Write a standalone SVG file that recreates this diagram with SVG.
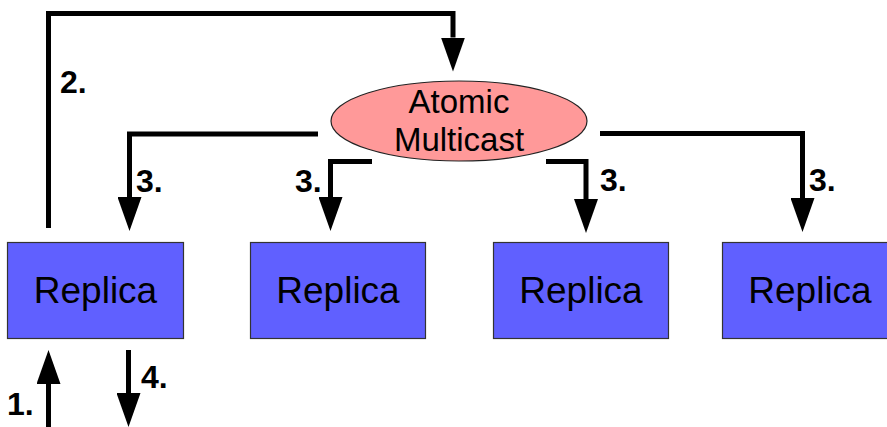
<svg xmlns="http://www.w3.org/2000/svg" width="887" height="427" viewBox="0 0 887 427">
<style>
.box{fill:#6060ff;stroke:#333;stroke-width:1.2}
.ell{fill:#ff9999;stroke:#222;stroke-width:1.2}
.t{font-family:"Liberation Sans",Arial,sans-serif;fill:#000;text-anchor:middle}
.lbl{font-family:"Liberation Sans",Arial,sans-serif;font-weight:bold;font-size:32px;fill:#000}
.c{fill:none;stroke:#000;stroke-width:5;stroke-linejoin:miter;stroke-linecap:butt}
</style>
<defs>
<marker id="ah" markerUnits="userSpaceOnUse" markerWidth="34" markerHeight="24" viewBox="0 -12 34 24" refX="0" refY="0" orient="auto">
<path d="M0,-12 L34,0 L0,12 Z" fill="#000"/>
</marker>
</defs>
<rect width="887" height="427" fill="#fff"/>
<g id="connectors">
<path class="c" d="M48.5,228 V13.5 H453 V37.5" marker-end="url(#ah)"/>
<path class="c" d="M318,134 H129.5 V197" marker-end="url(#ah)"/>
<path class="c" d="M372,161.5 H330.5 V197" marker-end="url(#ah)"/>
<path class="c" d="M546,161.5 H586 V199" marker-end="url(#ah)"/>
<path class="c" d="M600,133.5 H802.5 V198" marker-end="url(#ah)"/>
<path class="c" d="M48.5,427 V384" marker-end="url(#ah)"/>
<path class="c" d="M128.5,350 V393" marker-end="url(#ah)"/>
<text class="lbl" x="60" y="93">2.</text>
<text class="lbl" x="136" y="192">3.</text>
<text class="lbl" x="295" y="192">3.</text>
<text class="lbl" x="600" y="191">3.</text>
<text class="lbl" x="809" y="191">3.</text>
<text class="lbl" x="7" y="415">1.</text>
<text class="lbl" x="141" y="388">4.</text>
</g>
<g id="multicast">
<ellipse class="ell" cx="459" cy="121" rx="128" ry="40"/>
<text class="t" x="459" y="113" font-size="33">Atomic</text>
<text class="t" x="459" y="151" font-size="33">Multicast</text>
</g>
<g id="replica1">
<rect class="box" x="7.5" y="242.5" width="176" height="96"/>
<text class="t" x="95.5" y="303" font-size="37">Replica</text>
</g>
<g id="replica2">
<rect class="box" x="250.5" y="242.5" width="175" height="96"/>
<text class="t" x="338" y="303" font-size="37">Replica</text>
</g>
<g id="replica3">
<rect class="box" x="493.5" y="242.5" width="175" height="96"/>
<text class="t" x="581" y="303" font-size="37">Replica</text>
</g>
<g id="replica4">
<rect class="box" x="722.5" y="242.5" width="176" height="96"/>
<text class="t" x="810" y="303" font-size="37">Replica</text>
</g>
</svg>
